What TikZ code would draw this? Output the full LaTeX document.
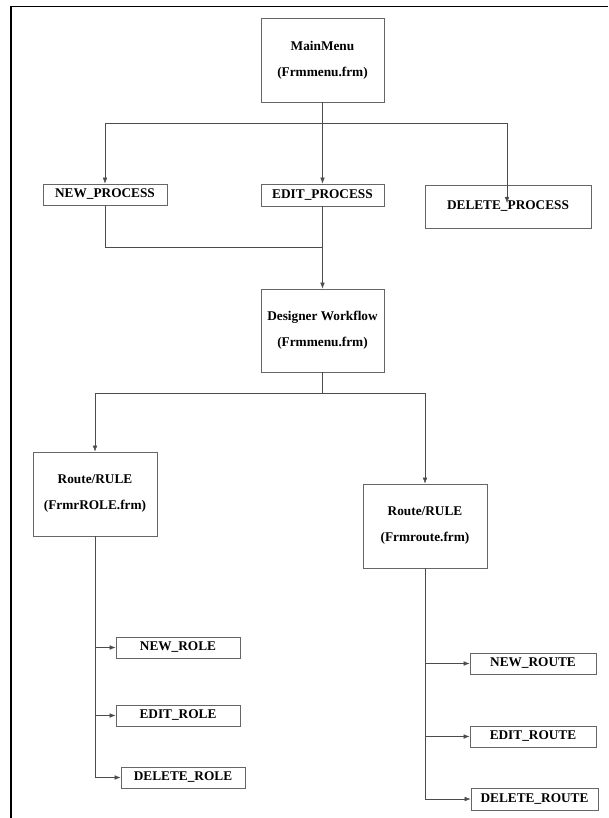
\documentclass[tikz,border=0pt]{standalone}
\usepackage{fontspec}
\setmainfont{Liberation Serif}
\usetikzlibrary{arrows.meta}

\begin{document}
\begin{tikzpicture}[x=1pt,y=-1pt,
      form node/.style={rectangle,draw=black!60,line width=0.6pt,align=center,
        minimum width=123pt,minimum height=84pt,inner sep=0pt,
        font=\fontsize{13.3}{26}\selectfont\bfseries},
      item node/.style={rectangle,draw=black!60,line width=0.6pt,
        minimum width=124pt,minimum height=21pt,inner sep=0pt,
        font=\fontsize{13.3}{15}\selectfont\bfseries},
      link/.style={draw=black!70,line width=0.5pt},
      arr/.style={link,-{Latex[length=6pt,width=4.5pt]}}]

      \useasboundingbox (0,0) rectangle (608,818);
      \draw[line width=1.6pt] (11,818) -- (11,6.5) -- (608,6.5);

      % menu level
      \node[form node] (menu) at (322.5,60) {MainMenu\\(Frmmenu.frm)};
      \node[item node] (newp) at (105,194.5) {NEW\_PROCESS};
      \node[item node,minimum width=123pt,minimum height=22pt] (editp) at (322.5,195) {EDIT\_PROCESS};
      \node[item node,minimum width=166pt,minimum height=43pt] (delp) at (508,206.5) {DELETE\_PROCESS};
      \node[form node,minimum height=83pt] (designer) at (322.5,330.5) {Designer Workflow\\(Frmmenu.frm)};

      % forms
      \node[form node,minimum width=124pt] (roleform) at (95,494) {Route/RULE\\(FrmrROLE.frm)};
      \node[form node,minimum width=124pt] (routeform) at (425,526) {Route/RULE\\(Frmroute.frm)};

      \node[item node] (newrole) at (178,647.5) {NEW\_ROLE};
      \node[item node] (editrole) at (178,715.5) {EDIT\_ROLE};
      \node[item node] (delrole) at (183,777.5) {DELETE\_ROLE};
      \node[item node,minimum width=126pt] (newroute) at (533,663.5) {NEW\_ROUTE};
      \node[item node,minimum width=126pt] (editroute) at (533,736.5) {EDIT\_ROUTE};
      \node[item node,minimum width=127pt,minimum height=22pt] (delroute) at (534.5,799) {DELETE\_ROUTE};

      \coordinate (bus1) at (322.5,123);
      \coordinate (deltip) at (507,203);
      \coordinate (merge) at (322.5,247);
      \coordinate (bus2) at (322.5,393);

      % connectors
      \draw[arr] (menu.south) -- (editp.north);
      \draw[link] (bus1 -| newp.north) -- (bus1 -| deltip);
      \draw[arr] (bus1 -| newp.north) -- (newp.north);
      \draw[arr] (bus1 -| deltip) -- (deltip);
      \draw[link] (newp.south) |- (merge);
      \draw[arr] (editp.south) -- (designer.north);
      \draw[link] (designer.south) -- (bus2);
      \draw[arr] (bus2) -| (routeform.north);
      \draw[arr] (bus2) -| (roleform.north);

      \draw[arr] (roleform.south) |- (newrole.west);
      \draw[arr] (roleform.south) |- (editrole.west);
      \draw[arr] (roleform.south) |- (delrole.west);
      \draw[arr] (routeform.south) |- (newroute.west);
      \draw[arr] (routeform.south) |- (editroute.west);
      \draw[arr] (routeform.south) |- (delroute.west);
    \end{tikzpicture}
\end{document}
